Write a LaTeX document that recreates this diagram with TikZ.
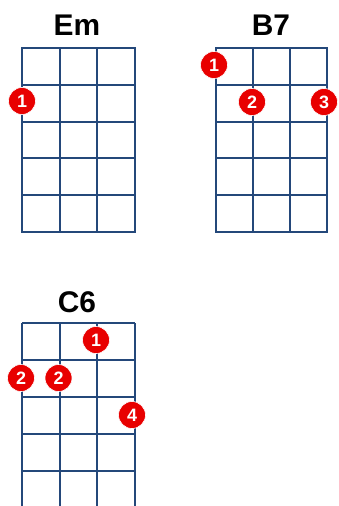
\documentclass[tikz,border=0pt]{standalone}
\usepackage{fontspec}
\setmainfont{Liberation Sans}
\definecolor{gridblue}{RGB}{36,72,122}
\definecolor{dotred}{RGB}{232,0,0}
\begin{document}
\begin{tikzpicture}[x=1bp,y=-1bp,
  gridline/.style={draw=gridblue,line width=2bp},
  chordname/.style={font=\fontsize{30}{30}\selectfont\bfseries,anchor=base,inner sep=0pt},
  fingerdot/.style={circle,fill=dotred,draw=white,line width=0.6bp,minimum size=27bp,inner sep=0pt,text=white,font=\fontsize{18}{18}\selectfont\bfseries}]
\useasboundingbox (0,0) rectangle (338,506);
\begin{scope}
\clip (0,0) rectangle (338,506);
% Em grid
\draw[gridline] (22,48) rectangle (135,232);
\foreach \x in {1,2} \draw[gridline] ({22+\x*37.67},48) -- ({22+\x*37.67},232);
\foreach \y in {1,...,4} \draw[gridline] (22,{48+\y*36.8}) -- (135,{48+\y*36.8});
% B7 grid
\draw[gridline] (216,48) rectangle (327,232);
\foreach \x in {1,2} \draw[gridline] ({216+\x*37},48) -- ({216+\x*37},232);
\foreach \y in {1,...,4} \draw[gridline] (216,{48+\y*36.8}) -- (327,{48+\y*36.8});
% C6 grid
\foreach \x in {0,...,3} \draw[gridline] ({22+\x*37.67},323) -- ({22+\x*37.67},510);
\foreach \y in {0,...,4} \draw[gridline] (22,{323+\y*37}) -- (135,{323+\y*37});
\end{scope}
% titles
\node[chordname] (em) at (77,35.5) {Em};
\node[chordname] (bseven) at (271,35.5) {B7};
\node[chordname] (csix) at (77,312.5) {C6};
% finger dots
\node[fingerdot] (em1) at (22,101) {1};
\node[fingerdot] (b1) at (214,65) {1};
\node[fingerdot] (b2) at (252,102) {2};
\node[fingerdot] (b3) at (324,102) {3};
\node[fingerdot] (c1) at (96,340) {1};
\node[fingerdot] (c2a) at (21,378) {2};
\node[fingerdot] (c2b) at (58.5,378) {2};
\node[fingerdot] (c4) at (132,415) {4};
\end{tikzpicture}
\end{document}
